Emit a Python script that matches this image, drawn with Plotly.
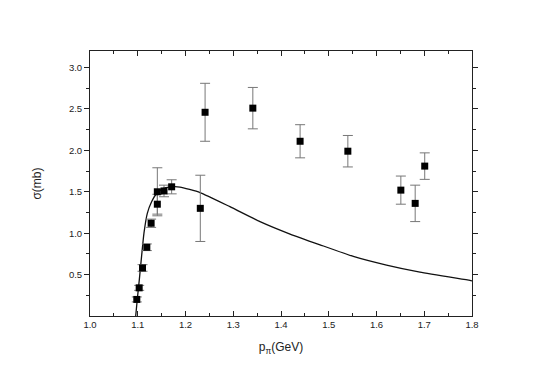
import plotly.graph_objects as go

# measured points
p_data = [1.098, 1.103, 1.110, 1.119, 1.128, 1.141, 1.141, 1.155, 1.171, 1.231, 1.241, 1.341, 1.440, 1.540, 1.651, 1.681, 1.701]
sigma_data = [0.20, 0.34, 0.58, 0.83, 1.12, 1.35, 1.50, 1.51, 1.56, 1.30, 2.46, 2.51, 2.11, 1.99, 1.52, 1.36, 1.81]
sigma_err = [0.03, 0.03, 0.04, 0.04, 0.05, 0.12, 0.29, 0.07, 0.085, 0.40, 0.35, 0.25, 0.20, 0.19, 0.17, 0.22, 0.16]

# model curve
p_curve = [1.0957, 1.099, 1.1033, 1.108, 1.113, 1.120, 1.129, 1.1396, 1.1535, 1.1745, 1.1885,
           1.2304, 1.293, 1.356, 1.419, 1.4817, 1.5515, 1.621, 1.691, 1.7958, 1.80]
sigma_curve = [0.0, 0.20, 0.44, 0.72, 1.00, 1.24, 1.38, 1.48, 1.54, 1.562, 1.557,
               1.49, 1.32, 1.14, 0.99, 0.86, 0.72, 0.615, 0.53, 0.43, 0.425]

fig = go.Figure()

fig.add_trace(go.Scatter(
    x=p_curve, y=sigma_curve, mode='lines',
    line=dict(color='#111111', width=1.3, shape='spline', smoothing=0.5),
    showlegend=False))

fig.add_trace(go.Scatter(
    x=p_data, y=sigma_data, mode='markers',
    marker=dict(symbol='square', size=7, color='black'),
    error_y=dict(type='data', array=sigma_err, color='#777777', thickness=1, width=5),
    showlegend=False))

font = 'Liberation Sans, Arial, sans-serif'

# the page body adds an 8px offset, margins take that into account
fig.update_layout(
    width=545, height=380,
    margin=dict(l=82, r=81, t=43, b=72),
    plot_bgcolor='white', paper_bgcolor='white',
    font=dict(family=font, size=9.5, color='#222222'),
)

fig.update_xaxes(
    range=[1.0, 1.8], dtick=0.1, tickformat='.1f',
    ticks='inside', ticklen=5, tickcolor='#222222',
    minor=dict(ticks='inside', dtick=0.05, ticklen=3, tickcolor='#222222'),
    showline=True, linecolor='#222222', linewidth=1, mirror='ticks',
    showgrid=False, zeroline=False,
    title=dict(text='p<sub>π</sub>(GeV)', font=dict(size=12, family=font, color='#222222'), standoff=13),
)
fig.update_yaxes(
    range=[0, 3.2], tickvals=[0.5, 1.0, 1.5, 2.0, 2.5, 3.0], tickformat='.1f',
    ticks='outside', ticklen=5, tickcolor='#222222',
    minor=dict(ticks='outside', tickvals=[0.25, 0.75, 1.25, 1.75, 2.25, 2.75], ticklen=3, tickcolor='#222222'),
    showline=True, linecolor='#222222', linewidth=1, mirror='ticks',
    showgrid=False, zeroline=False,
    title=dict(text='σ(mb)', font=dict(size=12, family=font, color='#222222'), standoff=24),
)

fig.write_html("out.html")
